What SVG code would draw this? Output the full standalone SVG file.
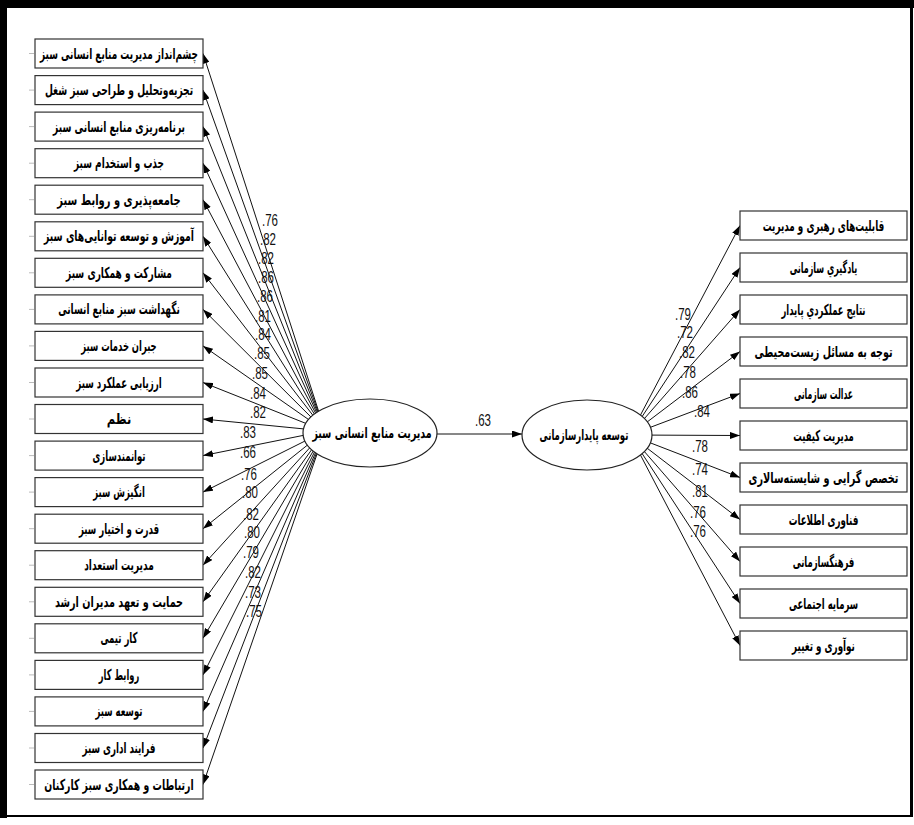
<svg xmlns="http://www.w3.org/2000/svg" width="914" height="825" viewBox="0 0 914 825">
<style>
.box{fill:#fff;stroke:#333;stroke-width:1.2}
.ell{fill:#fff;stroke:#222;stroke-width:1.2}
.lbl{font-family:"DejaVu Sans",sans-serif;font-weight:bold;font-size:15px;fill:#000;text-anchor:middle;direction:rtl}
.num{font-family:"Liberation Sans",Arial,sans-serif;font-size:16px;fill:#111;text-anchor:middle}
.con{stroke:#111;stroke-width:1;fill:none;marker-end:url(#ah)}
.tick{stroke:#bbb;stroke-width:1}
</style>
<defs>
<marker id="ah" markerWidth="10" markerHeight="7" refX="10" refY="3.5" orient="auto" markerUnits="userSpaceOnUse">
<path d="M0,0 L10,3.5 L0,7 z" fill="#000"/>
</marker>
</defs>
<rect x="0" y="0" width="914" height="825" fill="#fff"/>
<g id="frame" fill="#000">
<rect x="0" y="0" width="914" height="8"/>
<rect x="0" y="0" width="7" height="818"/>
<rect x="0" y="815" width="913" height="2"/>
<rect x="910" y="0" width="3" height="817"/>
</g>
<g id="connectors">
<line class="con" x1="325" y1="431" x2="203" y2="53.5"/>
<line class="con" x1="325" y1="431" x2="203" y2="90.1"/>
<line class="con" x1="325" y1="431" x2="203" y2="126.6"/>
<line class="con" x1="325" y1="431" x2="203" y2="163.2"/>
<line class="con" x1="325" y1="431" x2="203" y2="199.7"/>
<line class="con" x1="325" y1="431" x2="203" y2="236.3"/>
<line class="con" x1="325" y1="431" x2="203" y2="272.8"/>
<line class="con" x1="325" y1="431" x2="203" y2="309.4"/>
<line class="con" x1="325" y1="431" x2="203" y2="345.9"/>
<line class="con" x1="325" y1="431" x2="203" y2="382.5"/>
<line class="con" x1="325" y1="431" x2="203" y2="419"/>
<line class="con" x1="325" y1="431" x2="203" y2="455.6"/>
<line class="con" x1="325" y1="431" x2="203" y2="492.1"/>
<line class="con" x1="325" y1="431" x2="203" y2="528.7"/>
<line class="con" x1="325" y1="431" x2="203" y2="565.2"/>
<line class="con" x1="325" y1="431" x2="203" y2="601.8"/>
<line class="con" x1="325" y1="431" x2="203" y2="638.3"/>
<line class="con" x1="325" y1="431" x2="203" y2="674.9"/>
<line class="con" x1="325" y1="431" x2="203" y2="711.4"/>
<line class="con" x1="325" y1="431" x2="203" y2="748"/>
<line class="con" x1="325" y1="431" x2="203" y2="784.5"/>
<line class="con" x1="437" y1="434" x2="522" y2="434"/>
<line class="con" x1="630" y1="435" x2="740" y2="225.5"/>
<line class="con" x1="630" y1="435" x2="740" y2="267.5"/>
<line class="con" x1="630" y1="435" x2="740" y2="309.5"/>
<line class="con" x1="630" y1="435" x2="740" y2="351.5"/>
<line class="con" x1="630" y1="435" x2="740" y2="393.5"/>
<line class="con" x1="630" y1="435" x2="740" y2="435.5"/>
<line class="con" x1="630" y1="435" x2="740" y2="477.5"/>
<line class="con" x1="630" y1="435" x2="740" y2="519.5"/>
<line class="con" x1="630" y1="435" x2="740" y2="561.5"/>
<line class="con" x1="630" y1="435" x2="740" y2="603.5"/>
<line class="con" x1="630" y1="435" x2="740" y2="645.5"/>
<g class="tick">
<line x1="29" y1="53.5" x2="34" y2="53.5"/><line x1="29" y1="90.1" x2="34" y2="90.1"/><line x1="29" y1="126.6" x2="34" y2="126.6"/><line x1="29" y1="163.2" x2="34" y2="163.2"/><line x1="29" y1="199.7" x2="34" y2="199.7"/><line x1="29" y1="236.3" x2="34" y2="236.3"/><line x1="29" y1="272.8" x2="34" y2="272.8"/><line x1="29" y1="309.4" x2="34" y2="309.4"/><line x1="29" y1="345.9" x2="34" y2="345.9"/><line x1="29" y1="382.5" x2="34" y2="382.5"/><line x1="29" y1="419" x2="34" y2="419"/><line x1="29" y1="455.6" x2="34" y2="455.6"/><line x1="29" y1="492.1" x2="34" y2="492.1"/><line x1="29" y1="528.7" x2="34" y2="528.7"/><line x1="29" y1="565.2" x2="34" y2="565.2"/><line x1="29" y1="601.8" x2="34" y2="601.8"/><line x1="29" y1="638.3" x2="34" y2="638.3"/><line x1="29" y1="674.9" x2="34" y2="674.9"/><line x1="29" y1="711.4" x2="34" y2="711.4"/><line x1="29" y1="748" x2="34" y2="748"/><line x1="29" y1="784.5" x2="34" y2="784.5"/>
</g>
</g>
<g id="weights">
<text class="num" transform="translate(270,226) scale(0.72,1)">.76</text>
<text class="num" transform="translate(268,245) scale(0.72,1)">.82</text>
<text class="num" transform="translate(266,264) scale(0.72,1)">.82</text>
<text class="num" transform="translate(266,283) scale(0.72,1)">.86</text>
<text class="num" transform="translate(265,302) scale(0.72,1)">.86</text>
<text class="num" transform="translate(263,322) scale(0.72,1)">.81</text>
<text class="num" transform="translate(263,340) scale(0.72,1)">.84</text>
<text class="num" transform="translate(262,359) scale(0.72,1)">.85</text>
<text class="num" transform="translate(260,379) scale(0.72,1)">.85</text>
<text class="num" transform="translate(258,399) scale(0.72,1)">.84</text>
<text class="num" transform="translate(258,418) scale(0.72,1)">.82</text>
<text class="num" transform="translate(248,438) scale(0.72,1)">.83</text>
<text class="num" transform="translate(248,458) scale(0.72,1)">.66</text>
<text class="num" transform="translate(249,480) scale(0.72,1)">.76</text>
<text class="num" transform="translate(250,498) scale(0.72,1)">.80</text>
<text class="num" transform="translate(251,520) scale(0.72,1)">.82</text>
<text class="num" transform="translate(252,538) scale(0.72,1)">.80</text>
<text class="num" transform="translate(251,558) scale(0.72,1)">.79</text>
<text class="num" transform="translate(253,578) scale(0.72,1)">.82</text>
<text class="num" transform="translate(253,598) scale(0.72,1)">.73</text>
<text class="num" transform="translate(254,617) scale(0.72,1)">.75</text>
<text class="num" transform="translate(483,426) scale(0.72,1)">.63</text>
<text class="num" transform="translate(683,320) scale(0.72,1)">.79</text>
<text class="num" transform="translate(685,338) scale(0.72,1)">.72</text>
<text class="num" transform="translate(687,358) scale(0.72,1)">.82</text>
<text class="num" transform="translate(688,378) scale(0.72,1)">.78</text>
<text class="num" transform="translate(690,398) scale(0.72,1)">.86</text>
<text class="num" transform="translate(702,417) scale(0.72,1)">.84</text>
<text class="num" transform="translate(700,452) scale(0.72,1)">.78</text>
<text class="num" transform="translate(700,475) scale(0.72,1)">.74</text>
<text class="num" transform="translate(700,497) scale(0.72,1)">.81</text>
<text class="num" transform="translate(698,518) scale(0.72,1)">.76</text>
<text class="num" transform="translate(698,537) scale(0.72,1)">.76</text>
</g>
<g id="ghrm">
<ellipse class="ell" cx="370" cy="433" rx="67" ry="34"/>
<text class="lbl" transform="translate(372,438) scale(0.629,1)">مدیریت منابع انسانی سبز</text>
</g>
<g id="sustain">
<ellipse class="ell" cx="587" cy="435" rx="65" ry="35"/>
<text class="lbl" transform="translate(584,440) scale(0.567,1)">توسعه پایدارسازمانی</text>
</g>
<g id="L01"><rect class="box" x="35" y="39" width="168" height="29"/><text class="lbl" transform="translate(119,58.5) scale(0.594,1)">چشم‌انداز مدیریت منابع انسانی سبز</text></g>
<g id="L02"><rect class="box" x="35" y="75.6" width="168" height="29"/><text class="lbl" transform="translate(119,95.1) scale(0.609,1)">تجزیه‌وتحلیل و طراحی سبز شغل</text></g>
<g id="L03"><rect class="box" x="35" y="112.1" width="168" height="29"/><text class="lbl" transform="translate(119,131.6) scale(0.608,1)">برنامه‌ریزی منابع انسانی سبز</text></g>
<g id="L04"><rect class="box" x="35" y="148.7" width="168" height="29"/><text class="lbl" transform="translate(119,168.2) scale(0.594,1)">جذب و استخدام سبز</text></g>
<g id="L05"><rect class="box" x="35" y="185.2" width="168" height="29"/><text class="lbl" transform="translate(119,204.7) scale(0.663,1)">جامعه‌پذیری و روابط سبز</text></g>
<g id="L06"><rect class="box" x="35" y="221.8" width="168" height="29"/><text class="lbl" transform="translate(119,241.3) scale(0.618,1)">آموزش و توسعه توانایی‌های سبز</text></g>
<g id="L07"><rect class="box" x="35" y="258.3" width="168" height="29"/><text class="lbl" transform="translate(119,277.8) scale(0.603,1)">مشارکت و همکاری سبز</text></g>
<g id="L08"><rect class="box" x="35" y="294.9" width="168" height="29"/><text class="lbl" transform="translate(119,314.4) scale(0.597,1)">نگهداشت سبز منابع انسانی</text></g>
<g id="L09"><rect class="box" x="35" y="331.4" width="168" height="29"/><text class="lbl" transform="translate(119,350.9) scale(0.561,1)">جبران خدمات سبز</text></g>
<g id="L10"><rect class="box" x="35" y="368" width="168" height="29"/><text class="lbl" transform="translate(119,387.5) scale(0.581,1)">ارزیابی عملکرد سبز</text></g>
<g id="L11"><rect class="box" x="35" y="404.5" width="168" height="29"/><text class="lbl" transform="translate(119,424) scale(0.765,1)">نظم</text></g>
<g id="L12"><rect class="box" x="35" y="441.1" width="168" height="29"/><text class="lbl" transform="translate(119,460.6) scale(0.569,1)">توانمندسازی</text></g>
<g id="L13"><rect class="box" x="35" y="477.6" width="168" height="29"/><text class="lbl" transform="translate(119,497.1) scale(0.567,1)">انگیزش سبز</text></g>
<g id="L14"><rect class="box" x="35" y="514.2" width="168" height="29"/><text class="lbl" transform="translate(119,533.7) scale(0.573,1)">قدرت و اختیار سبز</text></g>
<g id="L15"><rect class="box" x="35" y="550.7" width="168" height="29"/><text class="lbl" transform="translate(119,570.2) scale(0.602,1)">مدیریت استعداد</text></g>
<g id="L16"><rect class="box" x="35" y="587.3" width="168" height="29"/><text class="lbl" transform="translate(119,606.8) scale(0.645,1)">حمایت و تعهد مدیران ارشد</text></g>
<g id="L17"><rect class="box" x="35" y="623.8" width="168" height="29"/><text class="lbl" transform="translate(119,643.3) scale(0.569,1)">کار تیمی</text></g>
<g id="L18"><rect class="box" x="35" y="660.4" width="168" height="29"/><text class="lbl" transform="translate(119,679.9) scale(0.552,1)">روابط کار</text></g>
<g id="L19"><rect class="box" x="35" y="696.9" width="168" height="29"/><text class="lbl" transform="translate(119,716.4) scale(0.567,1)">توسعه سبز</text></g>
<g id="L20"><rect class="box" x="35" y="733.5" width="168" height="29"/><text class="lbl" transform="translate(119,753) scale(0.581,1)">فرایند اداری سبز</text></g>
<g id="L21"><rect class="box" x="35" y="770" width="168" height="29"/><text class="lbl" transform="translate(119,789.5) scale(0.623,1)">ارتباطات و همکاری سبز کارکنان</text></g>
<g id="R01"><rect class="box" x="740" y="211" width="167" height="29"/><text class="lbl" transform="translate(823.5,230.5) scale(0.588,1)">قابلیت‌های رهبری و مدیریت</text></g>
<g id="R02"><rect class="box" x="740" y="253" width="167" height="29"/><text class="lbl" transform="translate(823.5,272.5) scale(0.533,1)">یادگیري سازمانی</text></g>
<g id="R03"><rect class="box" x="740" y="295" width="167" height="29"/><text class="lbl" transform="translate(823.5,314.5) scale(0.562,1)">نتایج عملکردي پایدار</text></g>
<g id="R04"><rect class="box" x="740" y="337" width="167" height="29"/><text class="lbl" transform="translate(823.5,356.5) scale(0.64,1)">توجه به مسائل زیست‌محیطی</text></g>
<g id="R05"><rect class="box" x="740" y="379" width="167" height="29"/><text class="lbl" transform="translate(823.5,398.5) scale(0.513,1)">عدالت سازمانی</text></g>
<g id="R06"><rect class="box" x="740" y="421" width="167" height="29"/><text class="lbl" transform="translate(823.5,440.5) scale(0.565,1)">مدیریت کیفیت</text></g>
<g id="R07"><rect class="box" x="740" y="463" width="167" height="29"/><text class="lbl" transform="translate(823.5,482.5) scale(0.649,1)">تخصص گرایی و شایسته‌سالاری</text></g>
<g id="R08"><rect class="box" x="740" y="505" width="167" height="29"/><text class="lbl" transform="translate(823.5,524.5) scale(0.581,1)">فناوری اطلاعات</text></g>
<g id="R09"><rect class="box" x="740" y="547" width="167" height="29"/><text class="lbl" transform="translate(823.5,566.5) scale(0.564,1)">فرهنگسازمانی</text></g>
<g id="R10"><rect class="box" x="740" y="589" width="167" height="29"/><text class="lbl" transform="translate(823.5,608.5) scale(0.567,1)">سرمایه اجتماعی</text></g>
<g id="R11"><rect class="box" x="740" y="631" width="167" height="29"/><text class="lbl" transform="translate(823.5,650.5) scale(0.586,1)">نوآوری و تغییر</text></g>
</svg>
